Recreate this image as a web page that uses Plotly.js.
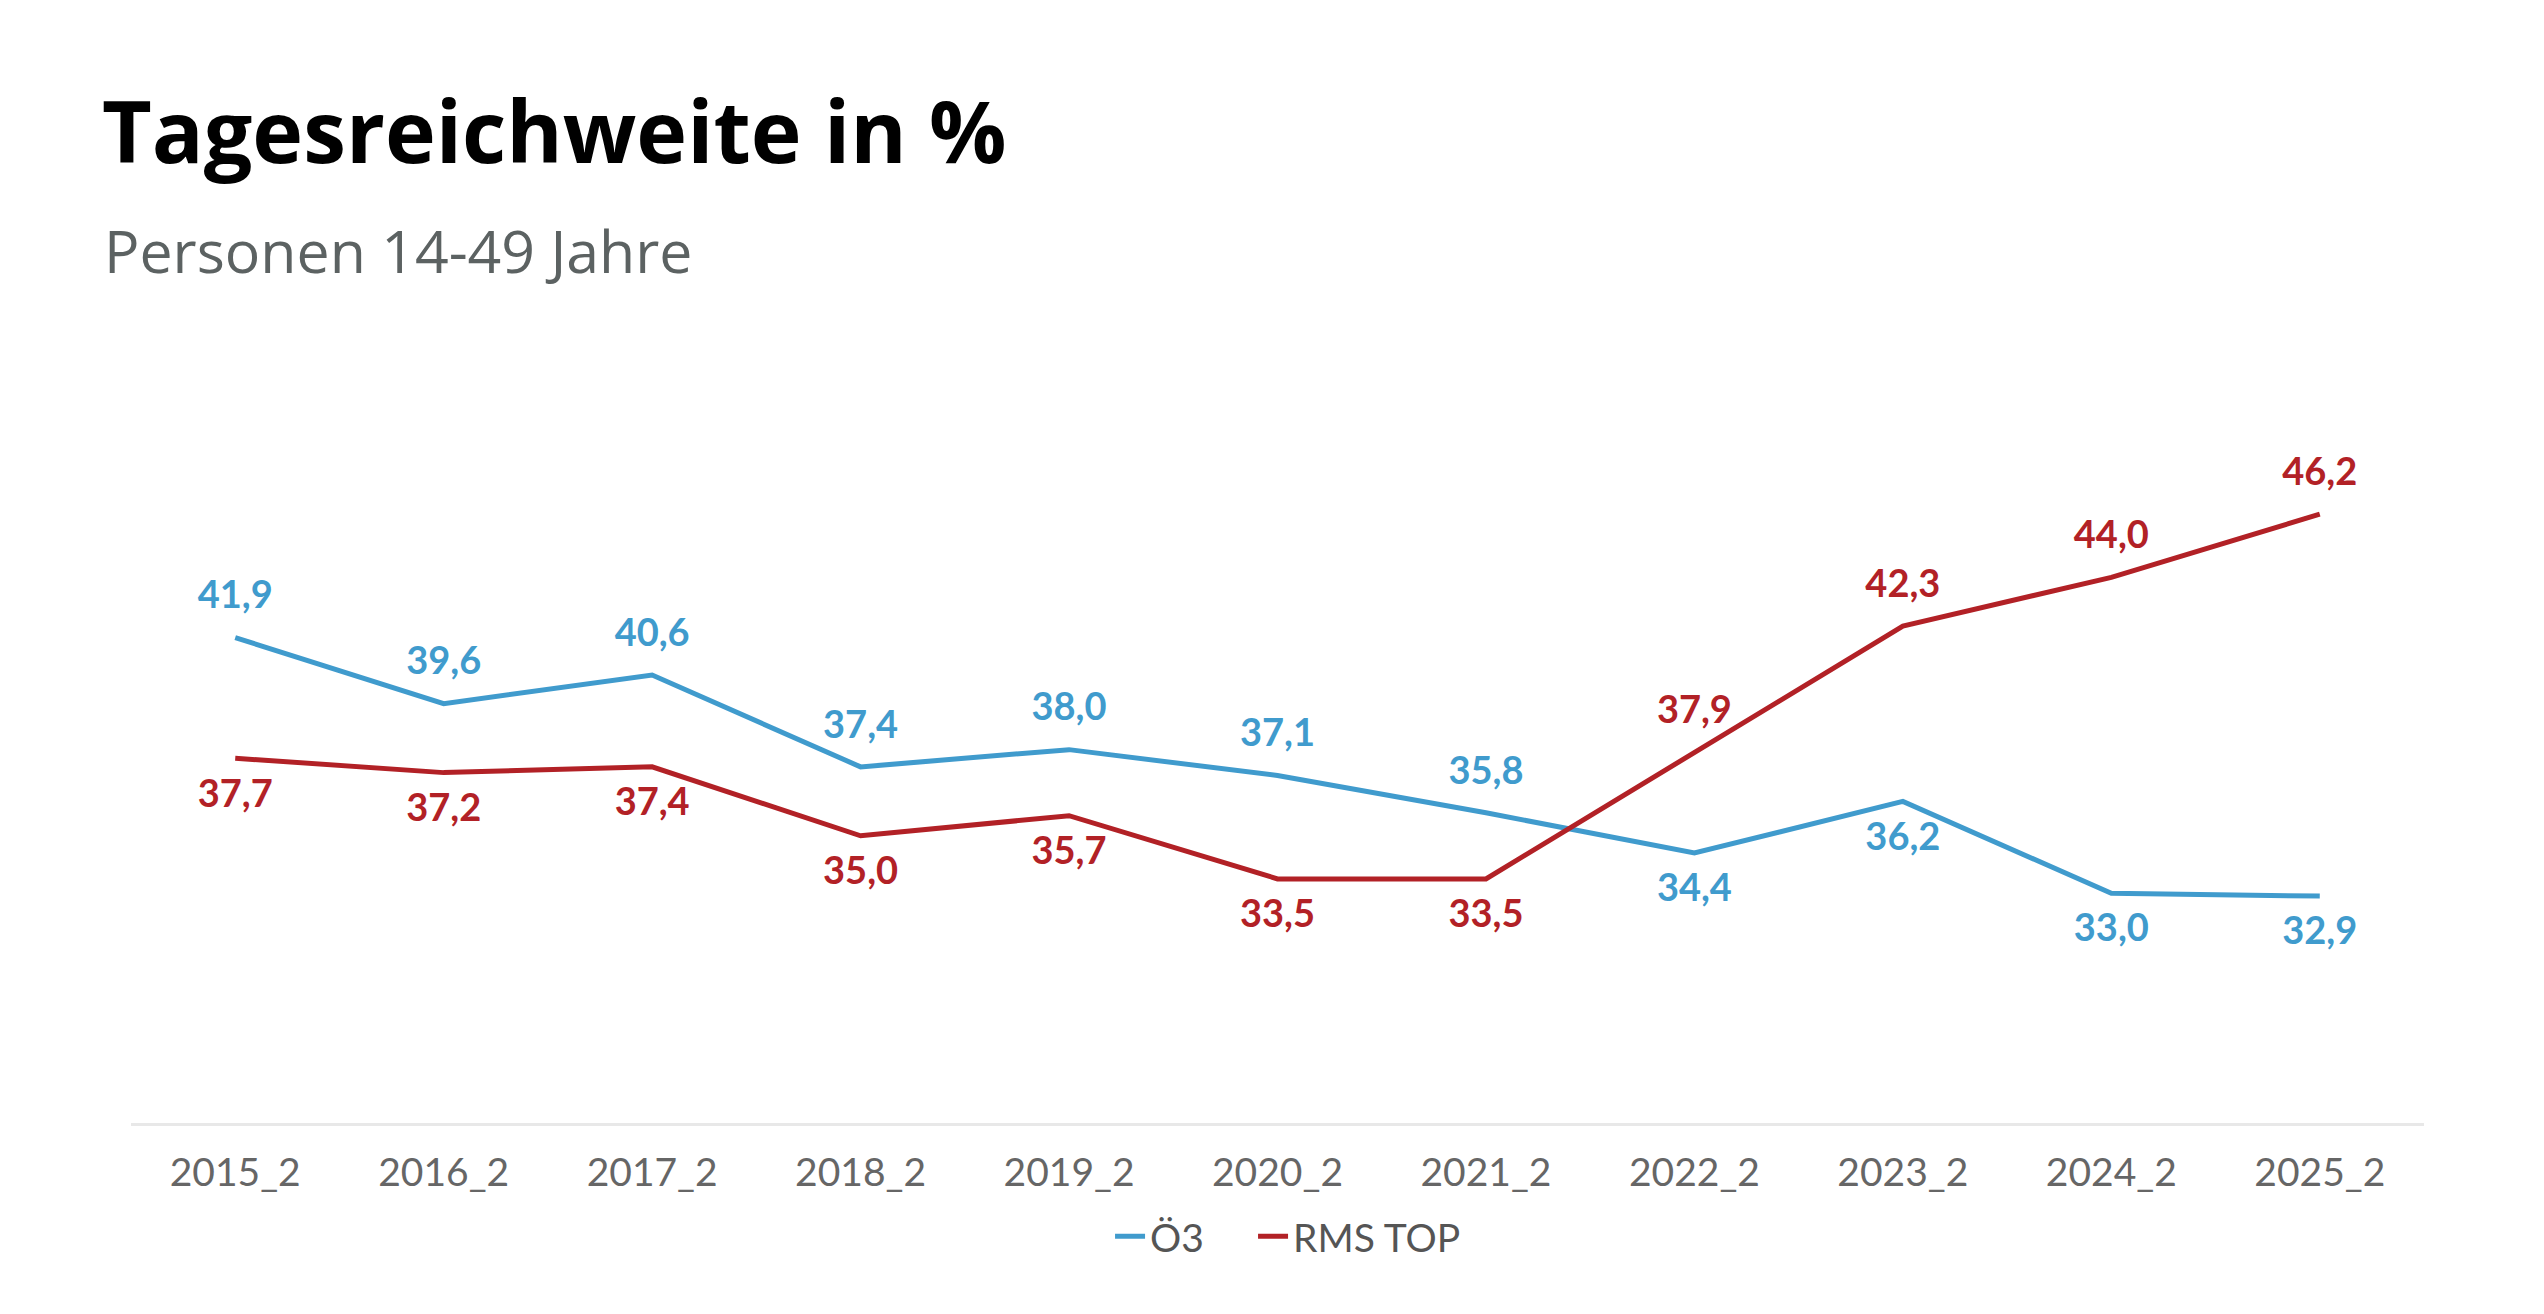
<!DOCTYPE html>
<html>
<head>
<meta charset="utf-8">
<script src="https://cdn.plot.ly/plotly-3.0.1.min.js"></script>
<style>
  html, body { margin: 0; padding: 0; background: #fff; }
  #chart { width: 2544px; height: 1314px; }
</style>
</head>
<body>
<div id="chart"></div>
<script>
let categories = ["2015_2", "2016_2", "2017_2", "2018_2", "2019_2", "2020_2", "2021_2", "2022_2", "2023_2", "2024_2", "2025_2"]
let oe3Values = [41.9, 39.6, 40.6, 37.4, 38.0, 37.1, 35.8, 34.4, 36.2, 33.0, 32.9]
let rmsValues = [37.7, 37.2, 37.4, 35.0, 35.7, 33.5, 33.5, 37.9, 42.3, 44.0, 46.2]

// where each value label sits relative to its point
let oe3LabelPos = ["top", "top", "top", "top", "top", "top", "top", "bottom", "bottom", "bottom", "bottom"]
let rmsLabelPos = ["bottom", "bottom", "bottom", "bottom", "bottom", "bottom", "bottom", "top", "top", "top", "top"]

let blue = "#409bcd"
let red = "#b22126"
let fontFamily = "Lato, 'Open Sans', sans-serif"
let headFont = "'Open Sans', Lato, sans-serif"

function makeTrace(name, values, positions, color) {
    return {
        x: categories,
        y: values,
        name: name,
        type: "scatter",
        mode: "lines+markers+text",
        line: { color: color, width: 5 },
        marker: { size: 30, color: "rgba(0,0,0,0)" },
        texttemplate: "%{y:.1f}",
        textposition: positions.map(p => p + " center"),
        textfont: { family: fontFamily, size: 38, color: color, weight: 700 },
        cliponaxis: false,
        hoverinfo: "skip"
    }
}

let oe3Trace = makeTrace("Ö3", oe3Values, oe3LabelPos, blue)
oe3Trace.legendwidth = 98   // wider gap before the second legend entry
let rmsTrace = makeTrace("RMS TOP", rmsValues, rmsLabelPos, red)

let layout = {
    width: 2544,
    height: 1314,
    separators: ",.",
    paper_bgcolor: "#fff",
    plot_bgcolor: "#fff",
    font: { family: fontFamily, color: "#666" },
    margin: { l: 131, r: 120, t: 405, b: 191 },
    title: {
        text: "<b>Tagesreichweite in %</b>",
        font: { family: headFont, size: 86, color: "#000" },
        xref: "container",
        yref: "container",
        x: 102 / 2544,
        xanchor: "left",
        y: 1 - 103 / 1314,
        yanchor: "top",
        pad: { t: 0, b: 0, l: 0, r: 0 }
    },
    annotations: [{
        text: "Personen 14-49 Jahre",
        xref: "paper",
        yref: "paper",
        x: (102 - 131) / 2293,
        xanchor: "left",
        y: 1.157,
        yanchor: "bottom",
        showarrow: false,
        font: { family: headFont, size: 59, color: "#5c6262" }
    }],
    xaxis: {
        type: "category",
        range: [-0.5, 10.5],
        showgrid: false,
        zeroline: false,
        showline: true,
        linecolor: "#e8e8e8",
        linewidth: 3,
        ticks: "",
        ticklabelstandoff: 13,
        tickfont: { family: fontFamily, size: 39, color: "#666" }
    },
    yaxis: {
        range: [25, 50],
        showgrid: false,
        zeroline: false,
        showline: false,
        showticklabels: false,
        ticks: ""
    },
    showlegend: true,
    legend: {
        orientation: "h",
        x: 0.5046,
        xanchor: "center",
        y: -0.158,
        yanchor: "middle",
        font: { family: fontFamily, size: 39, color: "#555" },
        itemwidth: 30
    }
}

Plotly.newPlot("chart", [oe3Trace, rmsTrace], layout, { displayModeBar: false, staticPlot: true })
</script>
</body>
</html>
